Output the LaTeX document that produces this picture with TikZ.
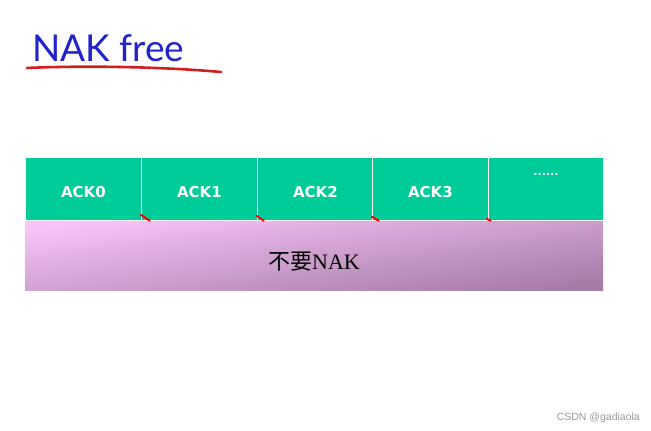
\documentclass[tikz,border=0pt]{standalone}
\usepackage{fontspec}
\setmainfont{Liberation Serif}
\newfontfamily\titlefont{Lato}
\newfontfamily\ackfont{DejaVu Sans}
\newfontfamily\cjk{Noto Sans CJK SC}
\newfontfamily\wmfont{Liberation Sans}
\definecolor{ackgreen}{RGB}{0,204,153}
\definecolor{titleblue}{RGB}{34,34,204}
\definecolor{penred}{RGB}{210,30,30}
\definecolor{pinklight}{RGB}{248,196,248}
\definecolor{pinkdark}{RGB}{165,125,165}
\begin{document}
\begin{tikzpicture}[x=1pt,y=-1pt,
  cell/.style={draw=white,line width=0.8pt,fill=ackgreen,minimum width=116pt,minimum height=63pt,anchor=north west,inner sep=0pt,
    font=\ackfont\bfseries\fontsize{15}{17}\selectfont,text=white,text height=17pt,text depth=0pt},
  tick/.style={draw=red,line width=2pt,line cap=round}]
\useasboundingbox (0,0) rectangle (651,431);
\fill[white] (0,0) rectangle (651,431);
% title
\node[anchor=base west,inner sep=0pt,text=titleblue,font=\titlefont\fontsize{37}{40}\selectfont] (title) at (32,61) {NAK free};
\coordinate (ul1) at (27,68);
\coordinate (ul2) at (221,72);
\draw[penred,line width=2.6pt,line cap=round] (ul1) .. controls (80,65.5) and (160,66.5) .. (ul2);
% lower band
\shade[shading=axis,top color=pinklight,bottom color=pinkdark,shading angle=8] (25,220) rectangle (603,290);
\node[inner sep=0pt,minimum width=578pt,minimum height=70pt,anchor=north west] (band) at (25,220) {};
\node[font=\fontsize{22}{24}\selectfont,text=black] (nak) at (314,262) {{\cjk 不要}NAK};
% cells
\node[cell] (c0) at (25,157) {ACK0};
\node[cell] (c1) at (141,157) {ACK1};
\node[cell] (c2) at (257,157) {ACK2};
\node[cell] (c3) at (372,157) {ACK3};
\node[cell,minimum width=115pt] (c4) at (488,157) {};
\node[text=white,font=\ackfont\bfseries\fontsize{11}{11}\selectfont,inner sep=0pt] (dots) at (546,174) {......};
% red ticks
\draw[tick] ([xshift=-1pt,yshift=6pt]c0.south east) -- ([xshift=8pt,yshift=0pt]c0.south east);
\draw[tick] ([xshift=-1pt,yshift=5pt]c1.south east) -- ([xshift=6pt,yshift=0pt]c1.south east);
\draw[tick] ([xshift=-2pt,yshift=4pt]c2.south east) -- ([xshift=5pt,yshift=0pt]c2.south east);
\draw[tick] ([xshift=-2pt,yshift=2pt]c3.south east) -- ([xshift=2pt,yshift=0pt]c3.south east);
% watermark
\node[anchor=base east,inner sep=0pt,text=black!40,font=\wmfont\fontsize{10.5}{12}\selectfont] (wm) at (640,420) {CSDN @gadiaola};
\end{tikzpicture}
\end{document}
